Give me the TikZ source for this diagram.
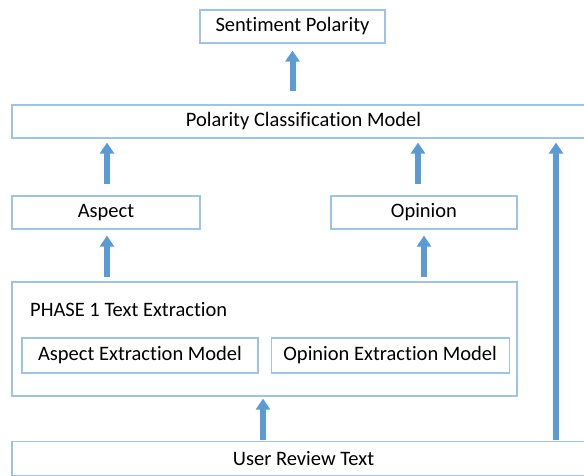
\documentclass[tikz,border=0pt]{standalone}
\usepackage{fontspec}
\setmainfont{Carlito}[Ligatures=NoCommon]
\usetikzlibrary{positioning,arrows.meta}
\definecolor{boxline}{HTML}{9DC3E6}
\definecolor{arrowblue}{HTML}{5B9BD5}
\tikzset{
	every node/.style = {font=\fontsize{20.5}{24}\selectfont, inner sep = 3},
	box/.style = {draw=boxline, line width=1.2pt, fill=white, minimum height=33},
	uparrow/.style = {draw=arrowblue, line width=6, -{Triangle[width=14,length=11]}, shorten >=5, shorten <=8}
}

\begin{document}
\begin{tikzpicture}[x=1pt, y=-1pt]
		\useasboundingbox (0,0) rectangle (584,475);
		\clip (0,0) rectangle (584,475);
		\node(sent)[box, minimum width=185] at (292.5,26.5) {Sentiment Polarity};
		\node(pcm)[box, minimum width=583] at (303.5,121.5) {Polarity Classification Model};
		\node(aspect)[box, minimum width=188] at (106,212.5) {Aspect};
		\node(opinion)[box, minimum width=186] at (424,212.5) {Opinion};
		\node(phase)[box, minimum width=505, minimum height=114] at (264.5,339) {};
		\node(phasetitle)[anchor=west] at (27,310) {PHASE 1 Text Extraction};
		\node(aem)[box, minimum width=236, minimum height=35] at (140,355.5) {Aspect Extraction Model};
		\node(oem)[box, minimum width=238, minimum height=35, right=12 of aem] {Opinion Extraction Model};
		\node(urt)[box, minimum width=583, minimum height=34] at (303.5,458.5) {User Review Text};
		\coordinate(side) at (556,0);
		
		\draw[uparrow, shorten <=13, shorten >=7] (pcm.north -| sent) -- (sent.south);
		\draw[uparrow, shorten <=11, shorten >=4] ([xshift=1]aspect.north) -- ([xshift=1]pcm.south -| aspect);
		\draw[uparrow, shorten <=11, shorten >=4] ([xshift=-6]opinion.north) -- ([xshift=-6]pcm.south -| opinion);
		\draw[uparrow, shorten <=4, shorten >=6] ([xshift=1]phase.north -| aspect) -- ([xshift=1]aspect.south);
		\draw[uparrow, shorten <=4, shorten >=6] (phase.north -| opinion) -- (opinion.south);
		\draw[uparrow, shorten <=1, shorten >=2] ([xshift=-1.5]urt.north -| phase) -- ([xshift=-1.5]phase.south);
		\draw[uparrow, shorten <=1, shorten >=4] (urt.north -| side) -- (pcm.south -| side);
		\end{tikzpicture}
\end{document}
